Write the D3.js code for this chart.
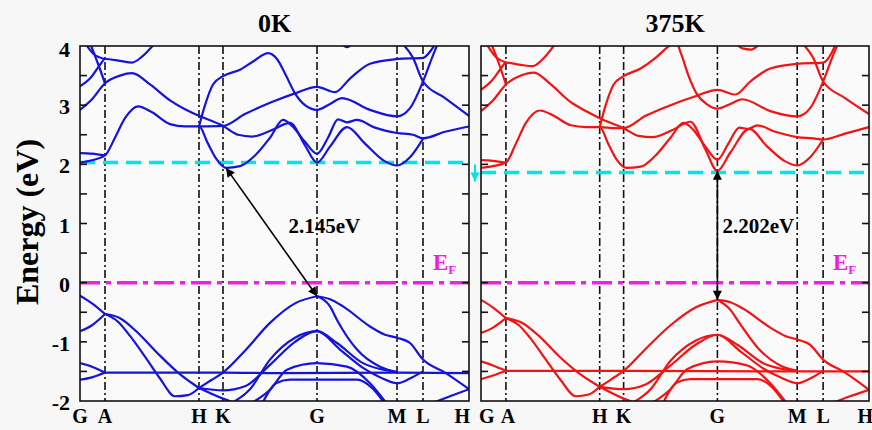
<!DOCTYPE html>
<html>
<head>
<meta charset="utf-8">
<script src="https://cdn.jsdelivr.net/npm/d3@7"></script>
<style>
body { margin: 0; background: #f7f7f7; }
svg { display: block; font-family: "Liberation Serif", "Times New Roman", serif; font-weight: bold; }
</style>
</head>
<body>
<svg id="chart" width="872" height="430"></svg>
<script>
// k-path (arbitrary distance units) and energy ticks
const kLabels = ["G", "A", "H", "K", "G", "M", "L", "H"];
const kTicks = [0, 25, 119, 143, 237, 317, 343, 389];
const energyTicks = [-2, -1, 0, 1, 2, 3, 4];
const energyMinor = [-1.5, -0.5, 0.5, 1.5, 2.5, 3.5];

// conduction band minimum guide lines
const cbLevel0K = 2.03;
const cbLevel375K = 1.86;

// gap arrows: [k, E] of CBM and VBM
const gapFrom0K = [146, 1.94];
const gapTo0K = [237, -0.23];
const gapText0K = "2.145eV";
const gapFrom375K = [237, 1.89];
const gapTo375K = [237, -0.29];
const gapText375K = "2.202eV";

// bands at 0 K, each a list of [k, E]
const bands0K = [
  [[0, 2.19], [12, 2.18], [25, 2.15]],
  [[0, 2.03], [12, 2.07], [25, 2.15], [35, 2.45], [45, 2.78], [58, 2.98], [72, 2.88], [90, 2.68], [105, 2.64], [119, 2.64], [128, 2.35], [136, 2.1], [146, 1.94], [160, 1.97], [175, 2.15], [190, 2.45], [203, 2.75], [212, 2.65], [225, 2.38], [237, 2.18], [248, 2.45], [258, 2.76], [267, 2.71], [277, 2.75], [295, 2.62], [317, 2.53], [333, 2.5], [343, 2.44], [365, 2.55], [389, 2.64]],
  [[0, 2.92], [12, 3.1], [25, 3.37], [40, 3.5], [52, 3.54], [70, 3.35], [90, 3.08], [105, 2.93], [119, 2.82], [143, 2.65], [158, 2.5], [172, 2.47], [192, 2.58], [210, 2.7], [225, 2.32], [237, 2.03], [250, 2.3], [267, 2.63], [285, 2.35], [305, 2.05], [317, 1.98], [330, 2.12], [343, 2.43]],
  [[119, 2.64], [125, 3.0], [133, 3.35], [143, 3.49], [160, 3.6], [175, 3.76], [188, 3.88], [197, 3.78], [206, 3.5], [215, 3.2], [225, 3.0], [237, 2.92], [250, 3.02], [262, 3.12], [290, 2.92], [317, 2.81], [330, 2.95], [343, 3.4], [352, 3.8], [358, 4.05]],
  [[119, 2.64], [143, 2.65], [165, 2.85], [190, 3.04], [215, 3.2], [237, 3.31], [255, 3.22], [270, 3.45], [290, 3.7], [317, 3.78], [343, 3.8], [352, 3.95], [356, 4.05]],
  [[322, 4.05], [333, 3.8], [343, 3.4], [365, 3.12], [389, 2.82]],
  [[0, 3.32], [10, 3.45], [20, 3.68], [25, 3.78], [40, 3.75], [52, 3.72], [62, 3.82], [75, 4.05]],
  [[10, 4.05], [18, 3.7], [25, 3.37]],
  [[5, 4.05], [14, 3.86], [25, 3.78]],
  [[261, 4.05], [267, 3.98], [273, 4.05]],
  [[0, -0.22], [12, -0.35], [25, -0.53]],
  [[0, -0.82], [12, -0.72], [25, -0.53]],
  [[25, -0.53], [40, -0.6], [58, -0.85], [78, -1.2], [98, -1.52], [119, -1.78]],
  [[25, -0.53], [38, -0.66], [50, -0.9], [65, -1.25], [80, -1.62], [95, -1.92], [108, -1.9], [119, -1.78]],
  [[25, -1.52], [100, -1.52], [143, -1.52], [200, -1.53], [317, -1.52], [389, -1.53]],
  [[0, -1.36], [12, -1.42], [25, -1.52]],
  [[0, -1.64], [12, -1.6], [25, -1.52]],
  [[119, -1.78], [131, -1.65], [143, -1.52], [165, -1.15], [190, -0.68], [215, -0.35], [237, -0.23]],
  [[237, -0.23], [250, -0.28], [263, -0.4], [290, -0.74], [305, -0.88], [317, -0.93], [330, -1.02], [343, -1.3], [365, -1.52], [389, -1.8]],
  [[237, -0.23], [250, -0.4], [257, -0.63], [277, -1.13], [300, -1.42], [317, -1.51]],
  [[119, -1.78], [143, -1.82], [165, -1.75], [190, -1.39], [215, -1.0], [237, -0.82], [257, -1.02], [283, -1.36], [300, -1.46], [317, -1.51]],
  [[150, -2.05], [170, -1.8], [190, -1.3], [215, -0.93], [237, -0.82], [260, -1.13], [283, -1.44], [300, -1.6], [317, -1.7], [330, -1.62], [343, -1.5]],
  [[170, -2.05], [190, -1.81], [207, -1.47], [237, -1.36], [267, -1.42], [290, -1.7], [307, -2.05]],
  [[182, -2.05], [196, -1.7], [210, -1.64], [277, -1.64], [292, -1.78], [305, -2.05]],
  [[119, -1.78], [143, -1.96], [158, -2.05]],
  [[350, -2.05], [370, -1.92], [389, -1.8]]
];

// bands at 375 K
const bands375K = [
  [[0, 2.07], [12, 2.06], [25, 2.03]],
  [[0, 1.94], [12, 1.97], [25, 2.03], [35, 2.35], [45, 2.7], [59, 2.91], [72, 2.83], [90, 2.66], [105, 2.63], [119, 2.63], [128, 2.33], [136, 2.08], [146, 1.94], [160, 1.96], [175, 2.15], [190, 2.45], [203, 2.7], [212, 2.6], [225, 2.3], [237, 2.08], [248, 2.35], [259, 2.62], [268, 2.6], [277, 2.66], [295, 2.55], [317, 2.46], [333, 2.44], [343, 2.42], [365, 2.52], [389, 2.63]],
  [[0, 2.9], [12, 3.08], [25, 3.35], [40, 3.5], [53, 3.55], [70, 3.35], [90, 3.05], [105, 2.9], [119, 2.78], [143, 2.61], [158, 2.48], [172, 2.46], [192, 2.58], [210, 2.72], [225, 2.25], [237, 1.89], [250, 2.2], [269, 2.6], [287, 2.3], [305, 2.05], [317, 1.98], [330, 2.12], [343, 2.42]],
  [[119, 2.63], [125, 3.0], [133, 3.35], [143, 3.49], [160, 3.62], [175, 3.8], [187, 3.98], [195, 4.08], [201, 3.85], [208, 3.5], [216, 3.2], [226, 3.02], [237, 2.94], [250, 3.02], [262, 3.1], [290, 2.9], [317, 2.81], [330, 2.95], [343, 3.4], [352, 3.8], [358, 4.05]],
  [[119, 2.63], [143, 2.61], [165, 2.82], [190, 3.0], [215, 3.15], [237, 3.26], [255, 3.18], [270, 3.4], [290, 3.62], [317, 3.7], [343, 3.72], [352, 3.9], [356, 4.05]],
  [[322, 4.05], [333, 3.8], [343, 3.4], [365, 3.12], [389, 2.85]],
  [[0, 3.26], [10, 3.4], [20, 3.62], [25, 3.72], [40, 3.68], [52, 3.66], [62, 3.78], [75, 4.05]],
  [[10, 4.05], [18, 3.7], [25, 3.35]],
  [[5, 4.05], [14, 3.83], [25, 3.72]],
  [[255, 4.05], [262, 3.96], [271, 3.94], [280, 4.05]],
  [[0, -0.29], [12, -0.42], [25, -0.6]],
  [[0, -0.85], [12, -0.76], [25, -0.6]],
  [[25, -0.6], [40, -0.67], [58, -0.9], [78, -1.24], [98, -1.53], [119, -1.76]],
  [[25, -0.6], [38, -0.72], [50, -0.95], [65, -1.3], [80, -1.65], [95, -1.92], [108, -1.89], [119, -1.76]],
  [[25, -1.49], [143, -1.49], [317, -1.5], [389, -1.5]],
  [[0, -1.33], [12, -1.4], [25, -1.49]],
  [[0, -1.63], [12, -1.57], [25, -1.49]],
  [[119, -1.76], [131, -1.63], [143, -1.49], [165, -1.12], [190, -0.72], [215, -0.42], [237, -0.29]],
  [[237, -0.29], [250, -0.33], [263, -0.44], [290, -0.76], [305, -0.9], [317, -0.96], [330, -1.05], [343, -1.3], [365, -1.52], [389, -1.81]],
  [[237, -0.29], [250, -0.46], [259, -0.68], [279, -1.13], [300, -1.4], [317, -1.49]],
  [[119, -1.76], [143, -1.8], [165, -1.72], [190, -1.4], [215, -1.05], [237, -0.88], [257, -1.05], [283, -1.36], [300, -1.45], [317, -1.49]],
  [[150, -2.05], [170, -1.8], [190, -1.32], [215, -0.98], [237, -0.88], [260, -1.16], [283, -1.45], [300, -1.6], [317, -1.7], [330, -1.62], [343, -1.49]],
  [[170, -2.05], [190, -1.8], [207, -1.46], [237, -1.33], [267, -1.4], [290, -1.7], [307, -2.05]],
  [[182, -2.05], [196, -1.69], [210, -1.63], [277, -1.63], [292, -1.77], [305, -2.05]],
  [[119, -1.76], [143, -1.96], [158, -2.05]],
  [[350, -2.05], [370, -1.92], [389, -1.81]]
];

const svg = d3.select("#chart");
const plotTop = 46, plotBottom = 401;
const yScale = d3.scaleLinear().domain([-2, 4]).range([plotBottom, plotTop]);

const defs = svg.append("defs");
defs.append("marker")
  .attr("id", "head")
  .attr("viewBox", "0 0 10 10")
  .attr("refX", 10).attr("refY", 5)
  .attr("markerWidth", 13).attr("markerHeight", 9)
  .attr("markerUnits", "userSpaceOnUse")
  .attr("orient", "auto-start-reverse")
  .append("path").attr("d", "M0,0L10,5L0,10z").attr("fill", "#000");
defs.append("marker")
  .attr("id", "cyanHead")
  .attr("viewBox", "0 0 10 10")
  .attr("refX", 10).attr("refY", 5)
  .attr("markerWidth", 10).attr("markerHeight", 9)
  .attr("markerUnits", "userSpaceOnUse")
  .attr("orient", "auto")
  .append("path").attr("d", "M0,0L10,5L0,10z").attr("fill", "#00e4ec");

const panels = [
  { x0: 80, x1: 469, title: "0K", bands: bands0K, color: "#1414dc", cb: cbLevel0K,
    gapFrom: gapFrom0K, gapTo: gapTo0K, gapText: gapText0K, textDx: 17, yLabels: true },
  { x0: 481, x1: 869, title: "375K", bands: bands375K, color: "#f21414", cb: cbLevel375K,
    gapFrom: gapFrom375K, gapTo: gapTo375K, gapText: gapText375K, textDx: 5, yLabels: false }
];

panels.forEach((p, i) => {
  const x = d3.scaleLinear().domain([0, 389]).range([p.x0, p.x1]);
  const g = svg.append("g");

  g.append("rect")
    .attr("x", p.x0).attr("y", plotTop)
    .attr("width", p.x1 - p.x0).attr("height", plotBottom - plotTop)
    .attr("fill", "#fafafa");

  defs.append("clipPath").attr("id", "clip" + i)
    .append("rect")
    .attr("x", p.x0).attr("y", plotTop)
    .attr("width", p.x1 - p.x0).attr("height", plotBottom - plotTop);

  // high-symmetry lines
  g.selectAll(".kline")
    .data(kTicks.slice(1, -1))
    .join("line")
    .attr("x1", (d) => x(d)).attr("x2", (d) => x(d))
    .attr("y1", plotTop).attr("y2", plotBottom)
    .attr("stroke", "#111")
    .attr("stroke-width", 1.6)
    .attr("stroke-dasharray", "8,3,2,3");

  // CBM guide (cyan) and Fermi level (magenta)
  g.append("line")
    .attr("x1", p.x0).attr("x2", p.x1 + 1)
    .attr("y1", yScale(p.cb)).attr("y2", yScale(p.cb))
    .attr("stroke", "#00e4ec")
    .attr("stroke-width", 3.5)
    .attr("stroke-dasharray", "15,8");

  g.append("line")
    .attr("x1", p.x0).attr("x2", p.x1)
    .attr("y1", yScale(0)).attr("y2", yScale(0))
    .attr("stroke", "#f020e0")
    .attr("stroke-width", 3.5)
    .attr("stroke-dasharray", "20,6,5,6");

  const line = d3.line()
    .x((d) => x(d[0]))
    .y((d) => yScale(d[1]))
    .curve(d3.curveMonotoneX);

  g.append("g")
    .attr("clip-path", "url(#clip" + i + ")")
    .selectAll("path")
    .data(p.bands)
    .join("path")
    .attr("d", line)
    .attr("fill", "none")
    .attr("stroke", p.color)
    .attr("stroke-width", 2.2);

  // frame
  g.append("rect")
    .attr("x", p.x0).attr("y", plotTop)
    .attr("width", p.x1 - p.x0).attr("height", plotBottom - plotTop)
    .attr("fill", "none")
    .attr("stroke", "#111")
    .attr("stroke-width", 1.6);

  // inward ticks on both sides
  const ticks = energyTicks.slice(1, -1).concat(energyMinor);
  [p.x0, p.x1].forEach((xe, side) => {
    g.selectAll(".tk" + side)
      .data(ticks)
      .join("line")
      .attr("class", "tk" + side)
      .attr("x1", xe).attr("x2", side ? xe - 7 : xe + 7)
      .attr("y1", (d) => yScale(d)).attr("y2", (d) => yScale(d))
      .attr("stroke", "#111")
      .attr("stroke-width", 1.6);
  });

  if (p.yLabels) {
    g.selectAll(".ylab")
      .data(energyTicks)
      .join("text")
      .attr("x", p.x0 - 10)
      .attr("y", (d) => yScale(d) + (d === 4 ? 11 : 9))
      .attr("text-anchor", "end")
      .attr("font-size", 22)
      .text((d) => d);
  }

  // k labels
  g.selectAll(".klab")
    .data(kTicks)
    .join("text")
    .attr("x", (d, j) => {
      if (j === kTicks.length - 1) return i === 0 ? x(d) + 1 : x(d) + 4;
      if (j === 0 && i === 1) return x(d) - 2;
      if (j === 1 && i === 1) return x(d) + 2;
      return x(d);
    })
    .attr("y", 423)
    .attr("text-anchor", (d, j) => {
      if (j === kTicks.length - 1) return "end";
      if (j === 0 && i === 1) return "start";
      return "middle";
    })
    .attr("font-size", 20)
    .text((d, j) => kLabels[j]);

  // title
  g.append("text")
    .attr("x", (p.x0 + p.x1) / 2)
    .attr("y", 32)
    .attr("text-anchor", "middle")
    .attr("font-size", 26)
    .text(p.title);

  // E_F label
  const ef = g.append("text")
    .attr("x", p.x1 - 36)
    .attr("y", yScale(0) - 13)
    .attr("fill", "#f020e0")
    .attr("font-size", 23)
    .text("E");
  ef.append("tspan")
    .attr("font-size", 13)
    .attr("dy", 4)
    .text("F");

  // band gap arrow
  g.append("line")
    .attr("x1", x(p.gapFrom[0])).attr("y1", yScale(p.gapFrom[1]))
    .attr("x2", x(p.gapTo[0])).attr("y2", yScale(p.gapTo[1]))
    .attr("stroke", "#000")
    .attr("stroke-width", 1.6)
    .attr("marker-start", "url(#head)")
    .attr("marker-end", "url(#head)");

  const mx = (x(p.gapFrom[0]) + x(p.gapTo[0])) / 2;
  g.append("text")
    .attr("x", mx + p.textDx)
    .attr("y", 233)
    .attr("font-size", 21)
    .text(p.gapText);
});

// cyan shift arrow between panels
svg.append("line")
  .attr("x1", 475).attr("x2", 475)
  .attr("y1", yScale(cbLevel0K) + 2).attr("y2", yScale(cbLevel375K) + 9)
  .attr("stroke", "#00e4ec")
  .attr("stroke-width", 2)
  .attr("marker-end", "url(#cyanHead)");

// y axis title
svg.append("text")
  .attr("transform", "translate(38,222) rotate(-90)")
  .attr("text-anchor", "middle")
  .attr("font-size", 32)
  .text("Energy (eV)");
</script>
</body>
</html>
